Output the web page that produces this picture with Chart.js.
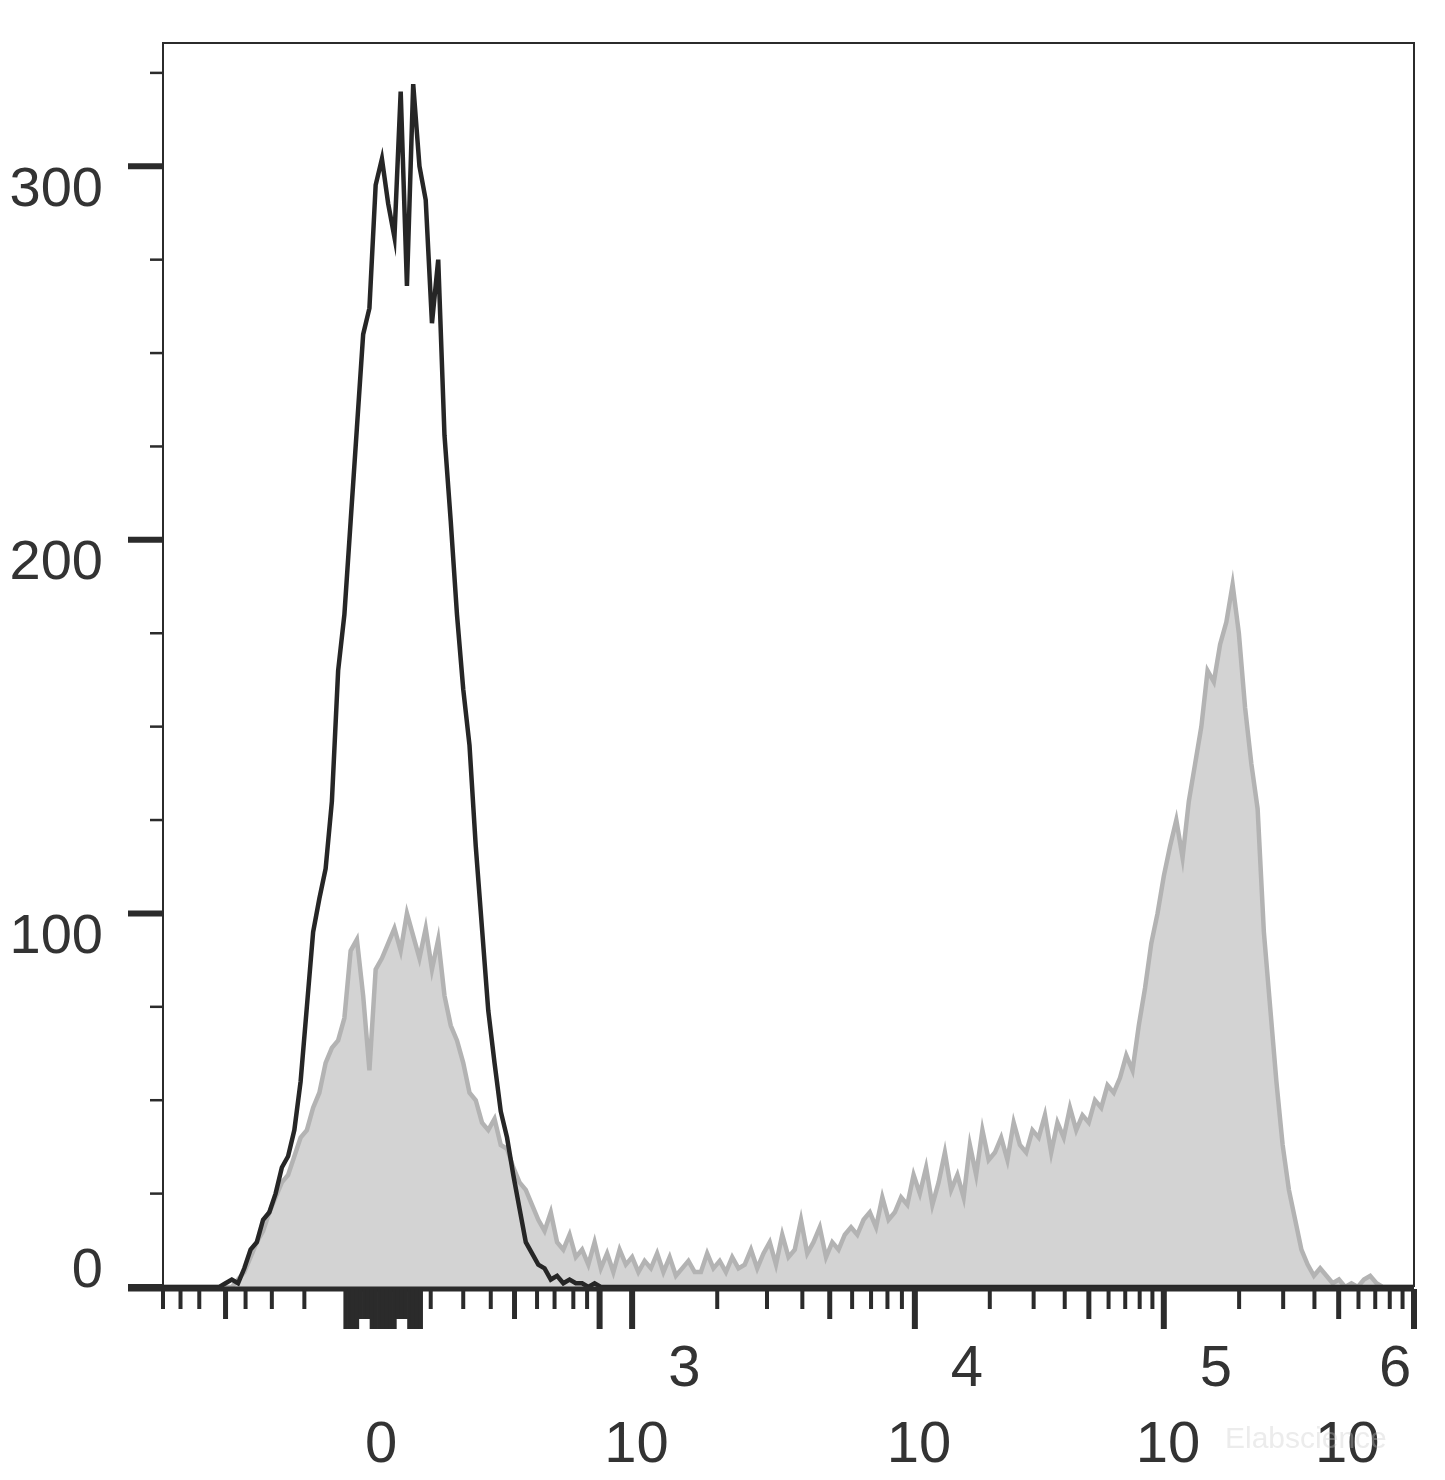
<!DOCTYPE html>
<html><head><meta charset="utf-8">
<script src="https://cdn.jsdelivr.net/npm/chart.js@4/dist/chart.umd.min.js"></script>
<style>html,body{margin:0;padding:0;background:#fff}#w{width:1445px;height:1480px}</style>
</head><body><div id="w"><canvas id="c"></canvas></div>
<script>
// channel positions (0..1000 across display) and counts
const blackChannels=[0,45,50,55,60,65,70,75,80,85,90,95,100,105,110,115,120,125,130,135,140,145,150,155,160,165,170,175,180,185,190,195,200,205,210,215,220,225,230,235,240,245,250,255,260,265,270,275,280,285,290,295,300,305,310,315,320,325,330,335,340,345,350,1000];
const blackCounts=[0,0,1,2,1,5,10,12,18,20,25,32,35,42,55,75,95,104,112,130,165,180,205,230,255,262,295,302,290,281,320,268,322,300,291,258,275,228,205,180,160,145,118,96,74,60,47,40,30,21,12,9,6,5,2,3,1,2,1,1,0,1,0,0];
const grayChannels=[0,55,60,65,70,75,80,85,90,95,100,105,110,115,120,125,130,135,140,145,150,155,160,165,170,175,180,185,190,195,200,205,210,215,220,225,230,235,240,245,250,255,260,265,270,275,280,285,290,295,300,305,310,315,320,325,330,335,340,345,350,355,360,365,370,375,380,385,390,395,400,405,410,415,420,425,430,435,440,445,450,455,460,465,470,475,480,485,490,495,500,505,510,515,520,525,530,535,540,545,550,555,560,565,570,575,580,585,590,595,600,605,610,615,620,625,630,635,640,645,650,655,660,665,670,675,680,685,690,695,700,705,710,715,720,725,730,735,740,745,750,755,760,765,770,775,780,785,790,795,800,805,810,815,820,825,830,835,840,845,850,855,860,865,870,875,880,885,890,895,900,905,910,915,920,925,930,935,940,945,950,955,960,965,970,975,1000];
const grayCounts=[0,0,2,4,8,12,15,20,24,28,30,35,40,42,48,52,60,64,66,72,90,93,78,58,85,88,92,96,90,100,94,88,96,85,93,78,70,66,60,52,50,44,42,45,38,37,32,28,26,22,18,15,20,12,10,14,8,10,6,12,5,9,4,10,6,8,4,7,5,9,4,8,3,5,7,4,4,9,5,7,4,8,5,6,10,5,9,12,6,14,8,10,18,9,12,16,8,12,10,14,16,14,18,20,16,24,18,20,24,22,30,25,32,22,28,36,26,30,24,38,30,42,34,36,40,34,44,38,36,42,40,46,36,44,40,48,42,46,44,50,48,54,52,56,62,58,70,80,92,100,110,118,125,115,130,140,150,165,162,172,178,188,175,155,140,128,95,75,55,38,26,18,10,6,3,5,3,1,2,0,1,0,2,3,1,0,0];
const yTickValues=[0,100,200,300];
const xDecadeLabels=[{c:375,p:'3'},{c:601,p:'4'},{c:800,p:'5'},{c:1000,p:'6'}];
const zeroChannel=176;

const toXY=(xs,ys)=>xs.map((x,i)=>({x:x,y:ys[i]}));

const axesPlugin={id:'axes',afterDraw(ch){
  const g=ch.ctx,a=ch.chartArea,xs=ch.scales.x,ys=ch.scales.y;
  g.save();g.strokeStyle='#2b2b2b';g.fillStyle='#2b2b2b';
  g.lineWidth=2;g.beginPath();g.moveTo(a.left,a.bottom);g.lineTo(a.left,a.top);g.lineTo(a.right,a.top);g.lineTo(a.right,a.bottom);g.stroke();
  g.lineWidth=5;g.beginPath();g.moveTo(128,a.bottom+2);g.lineTo(a.right,a.bottom+2);g.stroke();
  for(let v=0;v<=325;v+=25){const y=ys.getPixelForValue(v);const maj=v%100===0;
    g.lineWidth=maj?6:2.5;g.beginPath();g.moveTo(maj?128:150,y);g.lineTo(a.left,y);g.stroke();}
  const tick=(c,len,w)=>{const x=xs.getPixelForValue(c);g.lineWidth=w;g.beginPath();g.moveTo(x,a.bottom+2);g.lineTo(x,a.bottom+len);g.stroke();};
  [0,14,29,66,87,113,214,240,262,299,313,328,339].forEach(c=>tick(c,22,4));
  [50,281].forEach(c=>tick(c,32,5));
  [349,375].forEach(c=>tick(c,42,6));
  for(let c=146;c<=206;c+=3){const med=(c>=158&&c<=164)||(c>=188&&c<=194);tick(c,med?32:42,4.5);}
  const decs=[[375,601],[601,800],[800,1000]];
  decs.forEach(([s,e])=>{for(let k=2;k<=9;k++){tick(s+Math.log10(k)*(e-s),k===5?32:22,k===5?5:4);} tick(e,42,6);});
  g.font='56px "Liberation Sans", Arial, sans-serif';g.textAlign='right';g.textBaseline='middle';g.fillStyle='#333';
  yTickValues.forEach(v=>{const y=ys.getPixelForValue(v);g.fillText(String(v),103,v===0?y-15:y+24);});
  g.font='58px "Liberation Sans", Arial, sans-serif';
  g.textBaseline='alphabetic';g.textAlign='center';
  g.fillText('0',xs.getPixelForValue(zeroChannel)-2,1462);
  g.textAlign='left';
  xDecadeLabels.forEach((d,i)=>{const x=xs.getPixelForValue(d.c);const tx=i===3?x-99:x-28;g.fillText('10',tx,1462);g.fillText(d.p,tx+64,1386);});
  g.fillStyle='rgba(200,200,200,0.35)';g.font='30px "Liberation Sans", Arial, sans-serif';g.fillText('Elabscience',1225,1448);
  g.restore();}};

new Chart(document.getElementById('c'),{type:'line',
  data:{datasets:[
    {data:toXY(blackChannels,blackCounts),borderColor:'#262626',borderWidth:4.5,pointRadius:0,fill:false,tension:0,order:0},
    {data:toXY(grayChannels,grayCounts),borderColor:'#b3b3b3',backgroundColor:'#d3d3d3',borderWidth:4.5,pointRadius:0,fill:'origin',tension:0,order:1}
  ]},
  options:{responsive:true,maintainAspectRatio:false,animation:false,
    layout:{padding:{left:163,right:31,top:43,bottom:193}},
    plugins:{legend:{display:false},tooltip:{enabled:false}},
    scales:{x:{type:'linear',min:0,max:1000,display:false},y:{min:0,max:333,display:false}}},
  plugins:[axesPlugin]});
</script></body></html>
